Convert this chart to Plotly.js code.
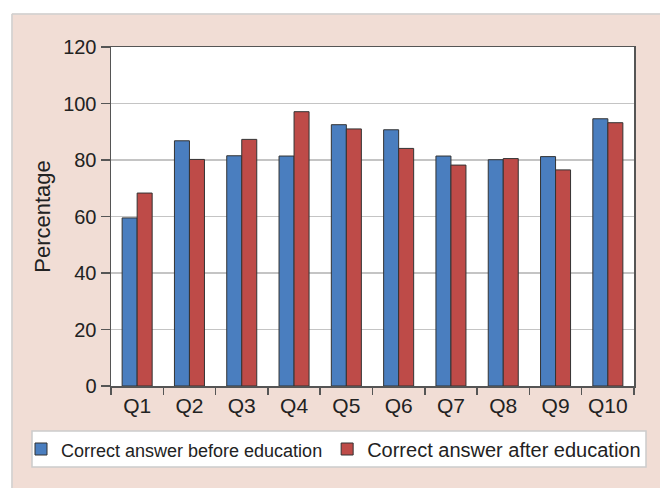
<!DOCTYPE html>
<html>
<head>
<meta charset="utf-8">
<script src="https://cdn.plot.ly/plotly-3.0.1.min.js"></script>
<style>html,body{margin:0;padding:0;background:#fff;}</style>
</head>
<body>
<div id="chart" style="width:660px;height:488px;"></div>
<script>
const categories = ["Q1","Q2","Q3","Q4","Q5","Q6","Q7","Q8","Q9","Q10"];
const beforeValues = [59.5, 86.8, 81.5, 81.4, 92.5, 90.7, 81.4, 80.1, 81.2, 94.6];
const afterValues  = [68.3, 80.2, 87.3, 97.1, 91.0, 84.1, 78.2, 80.5, 76.5, 93.2];
const seriesNames = ["Correct answer before education", "Correct answer after education"];
const yTicks = [0, 20, 40, 60, 80, 100, 120];

const W = 660, H = 488;
const L = 111, R = 26, T = 47, B = 102;
const pw = W - L - R, ph = H - T - B;
const px = x => (x - L) / pw;
const py = y => (H - B - y) / ph;

const pink = "#f1ddd5";

const traces = [
  {
    type: "bar", x: categories, y: beforeValues,
    name: "<span style=\"font-size:18px\">" + seriesNames[0] + "</span>",
    marker: {color: "#4a7ebf", line: {color: "#333333", width: 1}},
    hoverinfo: "x+y"
  },
  {
    type: "bar", x: categories, y: afterValues,
    name: seriesNames[1],
    marker: {color: "#be4b48", line: {color: "#333333", width: 1}},
    hoverinfo: "x+y"
  }
];

const layout = {
  width: W, height: H,
  margin: {l: L, r: R, t: T, b: B, pad: 0},
  paper_bgcolor: pink,
  plot_bgcolor: "#ffffff",
  font: {family: "Liberation Sans, Arial, sans-serif", size: 20, color: "#222222"},
  barmode: "group",
  bargap: 0.426,
  bargroupgap: 0,
  showlegend: true,
  legend: {
    orientation: "h",
    x: px(21), y: py(449), xanchor: "left", yanchor: "middle",
    bgcolor: "rgba(0,0,0,0)", borderwidth: 0,
    font: {size: 20, color: "#222222"},
    itemwidth: 30, tracegroupgap: 0,
    traceorder: "normal"
  },
  xaxis: {
    type: "category",
    tickson: "boundaries",
    ticks: "outside", ticklen: 7, tickwidth: 1.5, tickcolor: "#555555",
    showline: true, linecolor: "#555555", linewidth: 1.5, mirror: true,
    showgrid: false,
    tickfont: {size: 21, color: "#222222"},
    fixedrange: true
  },
  yaxis: {
    range: [0, 120],
    tickvals: yTicks,
    ticks: "outside", ticklen: 9, tickwidth: 1.5, tickcolor: "#555555",
    showline: true, linecolor: "#555555", linewidth: 1.5, mirror: true,
    showgrid: true, gridcolor: "#c4c4c4", gridwidth: 1.5,
    zeroline: false,
    tickfont: {size: 20, color: "#222222"},
    title: {text: "Percentage", font: {size: 22, color: "#222222"}, standoff: 6},
    fixedrange: true
  },
  shapes: [
    {type: "rect", xref: "paper", yref: "paper", layer: "below",
     x0: px(-5), x1: px(W + 5), y0: py(-5), y1: py(13.5), fillcolor: "#ffffff", line: {width: 0}},
    {type: "rect", xref: "paper", yref: "paper", layer: "below",
     x0: px(-5), x1: px(11.5), y0: py(H + 5), y1: py(-5), fillcolor: "#ffffff", line: {width: 0}},
    {type: "line", xref: "paper", yref: "paper", layer: "below",
     x0: px(12), x1: px(W + 5), y0: py(14), y1: py(14), line: {color: "#cfcfcf", width: 1.5}},
    {type: "line", xref: "paper", yref: "paper", layer: "below",
     x0: px(12), x1: px(12), y0: py(14), y1: py(H + 5), line: {color: "#cfcfcf", width: 1.5}},
    {type: "rect", xref: "paper", yref: "paper", layer: "below",
     x0: px(32), x1: px(646), y0: py(467), y1: py(431), fillcolor: "#ffffff", line: {color: "#cccccc", width: 1.5}}
  ]
};

Plotly.newPlot("chart", traces, layout, {displayModeBar: false, staticPlot: true});
</script>
</body>
</html>
